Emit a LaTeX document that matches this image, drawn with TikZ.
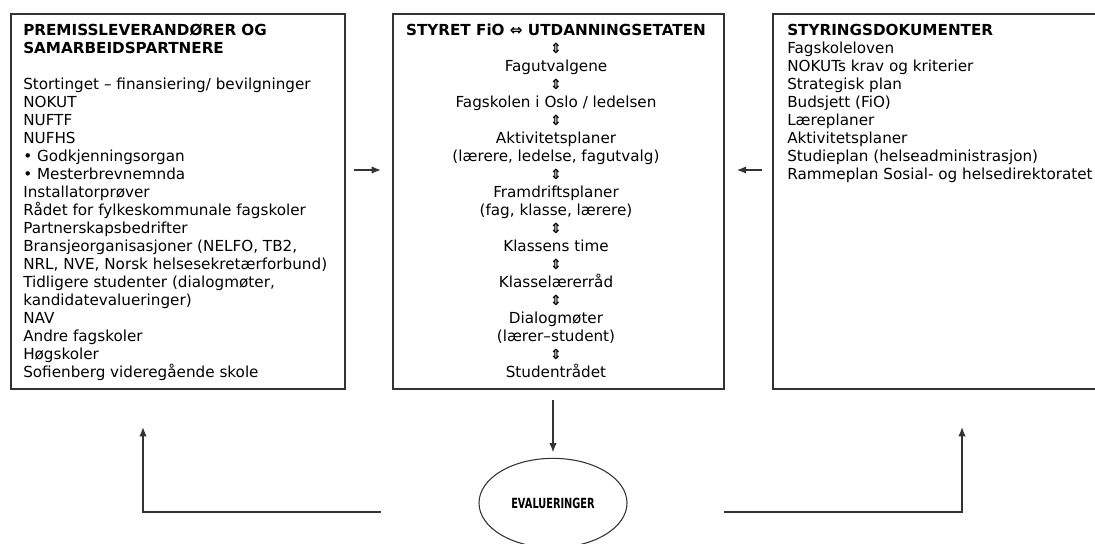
\documentclass[tikz,border=0pt]{standalone}
\usepackage{fontspec}
\usepackage{graphicx}
\setmainfont{DejaVu Sans}
\usetikzlibrary{shapes.geometric, arrows.meta}

\definecolor{framegray}{HTML}{333333}

\newcommand{\updown}{{\fontsize{10.5}{13.5}\selectfont\bfseries ⇕}}

\begin{document}
\begin{tikzpicture}[> = {Latex[length = 7pt, width = 5.5pt]}, x = 0.75pt, y = -0.75pt,
	panel/.style = {draw = framegray, line width = 1.3pt, anchor = north west, minimum height = 281.25pt, inner sep = 0pt},
	listing/.style = {inner sep = 0pt, font = \fontsize{11.4}{13.5}\selectfont},
	oval/.style = {ellipse, draw = framegray, line width = 0.8pt, minimum width = 111pt, minimum height = 67pt, inner sep = 0pt, font = \fontsize{10.5}{13.5}\selectfont\bfseries},
	link/.style = {->, draw = framegray, line width = 1pt}]

	\useasboundingbox (0, 0) rectangle (1095, 543);

	% Boxes
	
	\node [panel, minimum width = 250.5pt] (prem) at (10, 13) {};
	\node [panel, minimum width = 248.25pt] (styr) at (392, 13) {};
	\node [panel, minimum width = 253.5pt] (dok) at (772, 13) {};
	
	% Box texts
	
	\node [listing, anchor = north west, align = left] (premtext) at (23, 22.4) {\strut\textbf{PREMISSLEVERANDØRER OG}\\
		\textbf{SAMARBEIDSPARTNERE}\\[13.5pt]
		Stortinget – finansiering/ bevilgninger\\
		NOKUT\\
		NUFTF\\
		NUFHS\\
		• Godkjenningsorgan\\
		• Mesterbrevnemnda\\
		Installatorprøver\\
		Rådet for fylkeskommunale fagskoler\\
		Partnerskapsbedrifter\\
		Bransjeorganisasjoner (NELFO, TB2,\\
		NRL, NVE, Norsk helsesekretærforbund)\\
		Tidligere studenter (dialogmøter,\\
		kandidatevalueringer)\\
		NAV\\
		Andre fagskoler\\
		Høgskoler\\
		Sofienberg videregående skole};
	
	\node [listing, anchor = north, align = center] (styrtext) at (556, 22.4) {\strut\textbf{STYRET FiO ⇔ UTDANNINGSETATEN}\\
		\updown\\
		Fagutvalgene\\
		\updown\\
		Fagskolen i Oslo / ledelsen\\
		\updown\\
		Aktivitetsplaner\\
		(lærere, ledelse, fagutvalg)\\
		\updown\\
		Framdriftsplaner\\
		(fag, klasse, lærere)\\
		\updown\\
		Klassens time\\
		\updown\\
		Klasselærerråd\\
		\updown\\
		Dialogmøter\\
		(lærer–student)\\
		\updown\\
		Studentrådet};
	
	\node [listing, anchor = north west, align = left] (doktext) at (787, 22.4) {\strut\textbf{STYRINGSDOKUMENTER}\\
		Fagskoleloven\\
		NOKUTs krav og kriterier\\
		Strategisk plan\\
		Budsjett (FiO)\\
		Læreplaner\\
		Aktivitetsplaner\\
		Studieplan (helseadministrasjon)\\
		Rammeplan Sosial- og helsedirektoratet};
	
	% Evaluation
	
	\node [oval] (eval) at (553, 503) {\scalebox{0.7}[1]{EVALUERINGER}};
	
	% Arrows into the middle box
	
	\draw [link, shorten <= 6pt, shorten >= 8.25pt] (prem.east |- 0, 170) -- (styr.west |- 0, 170);
	\draw [link, shorten <= 7.5pt, shorten >= 9pt] (dok.west |- 0, 170) -- (styr.east |- 0, 170);
	\draw [link, shorten <= 7.5pt, shorten >= 4pt] (eval.north |- styr.south) -- (eval.north);
	
	% Feedback lines
	
	\coordinate (evleft) at (381, 512);
	\coordinate (evright) at (724, 512);
	\coordinate (premin) at (143, 427);
	\coordinate (dokin) at (962, 427);
	\draw [link] (evleft) -| (premin);
	\draw [link] (evright) -| (dokin);

\end{tikzpicture}
\end{document}
